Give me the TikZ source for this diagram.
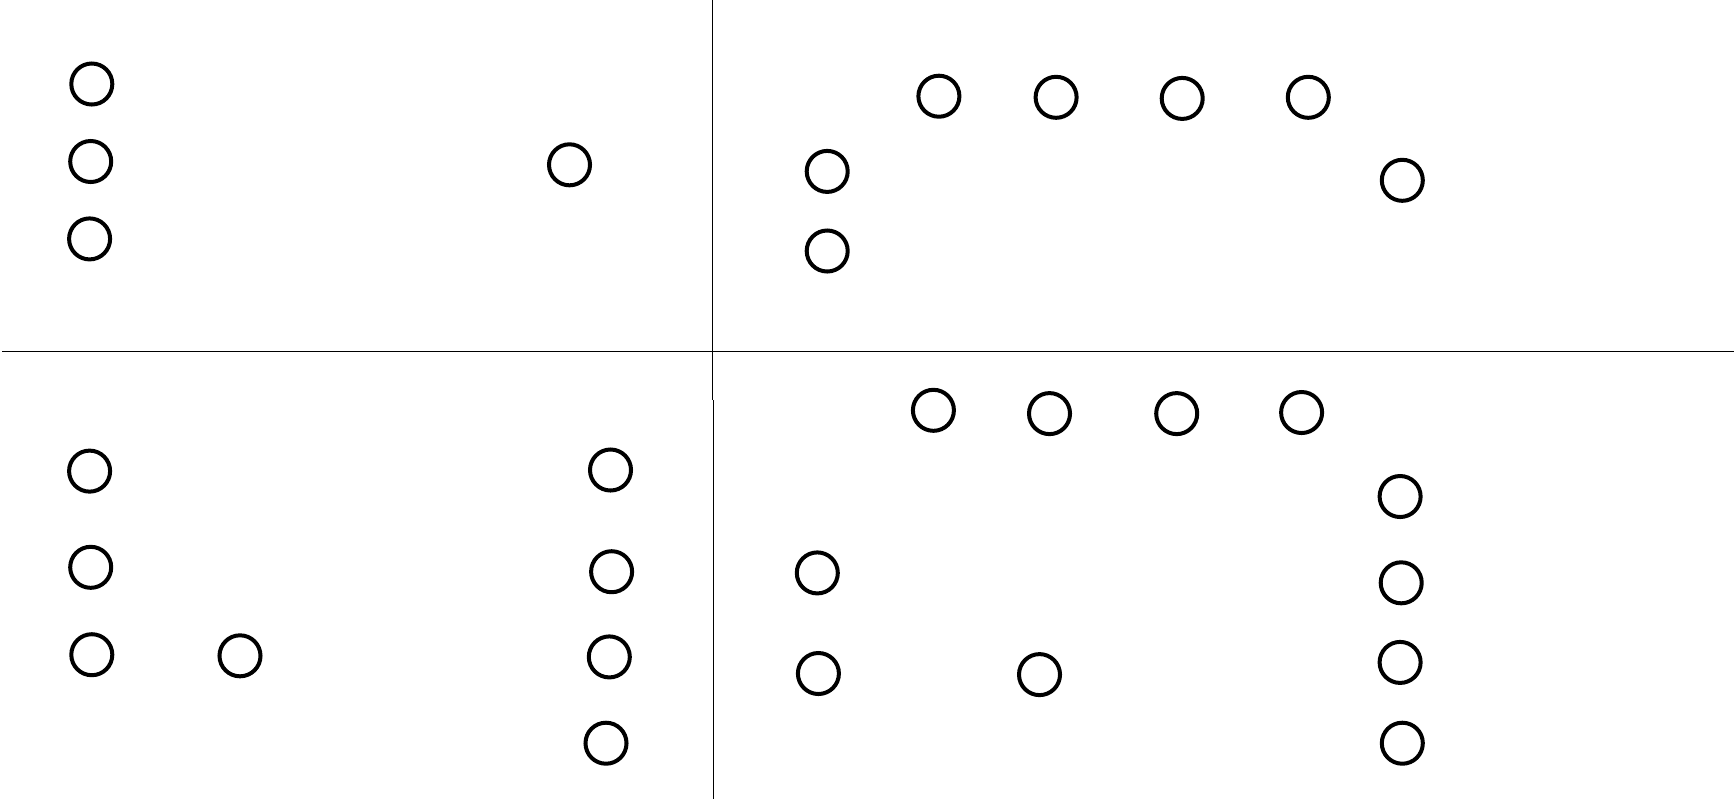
\documentclass[tikz,border=0pt]{standalone}
\usepackage{tikz}
\tikzset{
  spot/.style={circle,draw=black,line width=0.4mm,inner sep=0pt,minimum size=4.1mm},
  divider/.style={draw=black,line width=0.3pt},
}
\begin{document}
\begin{tikzpicture}[x=0.01cm,y=-0.01cm]
  \useasboundingbox (0,0) rectangle (1734,799);
  % quadrant dividers
  \coordinate (hl) at (2,351.5);
  \coordinate (hr) at (1734,351.5);
  \coordinate (vt) at (712.7,0);
  \coordinate (vm) at (712.7,400);
  \coordinate (vm2) at (713.5,400);
  \coordinate (vb) at (713.5,799);
  \draw[divider] (hl)--(hr);
  \draw[divider] (vt)--(vm);
  \draw[divider] (vm2)--(vb);
  % top left
  \node[spot] (tl1) at (91.8,84.0) {};
  \node[spot] (tl2) at (90.7,161.5) {};
  \node[spot] (tl3) at (89.6,238.9) {};
  \node[spot] (tl4) at (569.5,164.8) {};
  % top right
  \node[spot] (tr1) at (938.9,96.2) {};
  \node[spot] (tr2) at (1056.1,97.3) {};
  \node[spot] (tr3) at (1182.2,98.4) {};
  \node[spot] (tr4) at (1308.3,97.3) {};
  \node[spot] (tr5) at (827.2,171.4) {};
  \node[spot] (tr6) at (827.2,251.0) {};
  \node[spot] (tr7) at (1402.3,180.3) {};
  % bottom left
  \node[spot] (bl1) at (89.6,471.1) {};
  \node[spot] (bl2) at (90.7,567.3) {};
  \node[spot] (bl3) at (91.8,654.7) {};
  \node[spot] (bl4) at (240.0,655.8) {};
  \node[spot] (bl5) at (610.5,470.0) {};
  \node[spot] (bl6) at (611.6,571.7) {};
  \node[spot] (bl7) at (609.3,656.9) {};
  \node[spot] (bl8) at (606.0,743.2) {};
  % bottom right
  \node[spot] (br1) at (933.4,410.3) {};
  \node[spot] (br2) at (1049.5,413.6) {};
  \node[spot] (br3) at (1176.7,413.6) {};
  \node[spot] (br4) at (1301.6,412.5) {};
  \node[spot] (br5) at (1400.1,496.5) {};
  \node[spot] (br6) at (1401.2,582.8) {};
  \node[spot] (br7) at (1400.1,662.4) {};
  \node[spot] (br8) at (1402.3,743.2) {};
  \node[spot] (br9) at (817.3,572.9) {};
  \node[spot] (br10) at (818.4,673.5) {};
  \node[spot] (br11) at (1039.5,674.6) {};
\end{tikzpicture}
\end{document}
